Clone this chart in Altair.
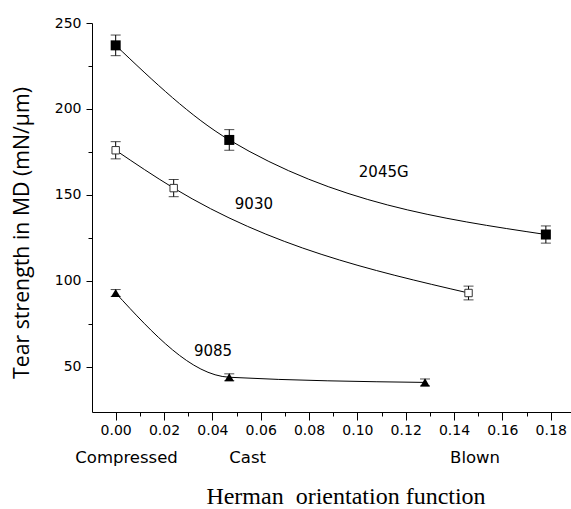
import altair as alt
import pandas as pd

# Measured tear strength (MD) against Herman orientation function
series_names = ["2045G", "9030", "9085"]
x_2045g = [0.000, 0.047, 0.178]
y_2045g = [237, 182, 127]
e_2045g = [6, 6, 5]

x_9030 = [0.000, 0.024, 0.146]
y_9030 = [176, 154, 93]
e_9030 = [5, 5, 4]

x_9085 = [0.000, 0.047, 0.128]
y_9085 = [93, 44, 41]
e_9085 = [2, 2, 2]

# Film process labels shown under the x tick labels
process_labels = ["Compressed", "Cast", "Blown"]
process_x = [0.0045, 0.0546, 0.1487]

# Series name annotations next to the curves
note_x = [0.1109, 0.0572, 0.0403]
note_y = [163.5, 144.5, 59.3]

x_ticks = [round(-0.01 + 0.01 * i, 2) for i in range(20)]
y_ticks = [50, 75, 100, 125, 150, 175, 200, 225, 250]

rows = []
for name, xs, ys, es in [
    ("2045G", x_2045g, y_2045g, e_2045g),
    ("9030", x_9030, y_9030, e_9030),
    ("9085", x_9085, y_9085, e_9085),
]:
    for xv, yv, ev in zip(xs, ys, es):
        rows.append({"series": name, "x": xv, "y": yv, "lo": yv - ev, "hi": yv + ev})
df = pd.DataFrame(rows)

notes = pd.DataFrame({"label": series_names, "x": note_x, "y": note_y})
procs = pd.DataFrame({"label": process_labels, "x": process_x})

x_scale = alt.Scale(domain=[-0.0098, 0.1884], nice=False, zero=False)
y_scale = alt.Scale(domain=[23.8, 250], nice=False, zero=False)

x_major = "abs(datum.value*50 - round(datum.value*50)) < 0.001"
y_major = "datum.value % 50 == 0"

x_axis = alt.Axis(
    values=x_ticks,
    labelExpr="(" + x_major + ") ? format(datum.value, '.2f') : ''",
    tickSize={"condition": {"test": x_major, "value": 8}, "value": 4},
    labelFont="DejaVu Sans", labelFontSize=14, labelColor="black", labelPadding=3,
    labelOverlap=False, labelFlush=False,
    grid=False, domainColor="black", tickColor="black",
    title="Herman\u00a0 orientation function",
    titleFont="Liberation Serif", titleFontSize=24, titleFontWeight="normal",
    titleColor="black", titleX=253.5, titleY=91.5, titleAlign="center",
    titleBaseline="alphabetic",
)
y_axis = alt.Axis(
    values=y_ticks,
    labelExpr="(" + y_major + ") ? datum.value : ''",
    tickSize={"condition": {"test": y_major, "value": 6}, "value": 4},
    labelFont="DejaVu Sans", labelFontSize=14, labelColor="black", labelPadding=5,
    labelOverlap=False, labelFlush=False,
    grid=False, domainColor="black", tickColor="black",
    title="Tear strength in MD (mN/\u03bcm)",
    titleFont="Open Sans", titleFontSize=21.3, titleFontWeight="normal",
    titleColor="black", titleX=-63.5, titleY=209.5, titleAlign="center",
    titleBaseline="alphabetic", titleAngle=-90,
)


def xq(field):
    return alt.X(field, type="quantitative", scale=x_scale, axis=x_axis)


def yq(field):
    return alt.Y(field, type="quantitative", scale=y_scale, axis=y_axis)


base = alt.Chart(df)

curves = base.mark_line(interpolate="monotone", color="black", strokeWidth=1).encode(
    x=xq("x"), y=yq("y"), detail="series:N"
)

bars = base.mark_rule(color="black", strokeWidth=1).encode(
    x=xq("x"), y=yq("lo"), y2="hi:Q"
)
caps_lo = base.mark_tick(color="black", orient="horizontal", size=10, thickness=1).encode(
    x=xq("x"), y=yq("lo")
)
caps_hi = base.mark_tick(color="black", orient="horizontal", size=10, thickness=1).encode(
    x=xq("x"), y=yq("hi")
)

filled_sq = alt.Chart(df[df.series == "2045G"]).mark_point(
    shape="square", filled=True, color="black", size=100, opacity=1
).encode(x=xq("x"), y=yq("y"))

open_sq = alt.Chart(df[df.series == "9030"]).mark_point(
    shape="square", filled=True, fill="white", stroke="#333333", strokeWidth=1, size=55, opacity=1
).encode(x=xq("x"), y=yq("y"))

tri = alt.Chart(df[df.series == "9085"]).mark_point(
    shape="triangle-up", filled=True, color="black", size=90, opacity=1
).encode(x=xq("x"), y=yq("y"))

note_text = alt.Chart(notes).mark_text(
    font="DejaVu Sans", fontSize=15, color="black", align="center", baseline="middle"
).encode(x=xq("x"), y=yq("y"), text="label:N")

proc_text = alt.Chart(procs).mark_text(
    font="DejaVu Sans", fontSize=16.5, color="black", align="center", baseline="middle"
).encode(x=xq("x"), y=alt.value(434.5), text="label:N")

chart = alt.layer(
    curves, bars, caps_lo, caps_hi, filled_sq, open_sq, tri, note_text, proc_text
).properties(
    width=479,
    height=389,
    autosize=alt.AutoSizeParams(type="none"),
    padding={"left": 92, "top": 23, "right": 0, "bottom": 97},
    background="white",
).configure_view(stroke=None)

chart.save("out.html", embed_options={"renderer": "svg", "actions": False})
